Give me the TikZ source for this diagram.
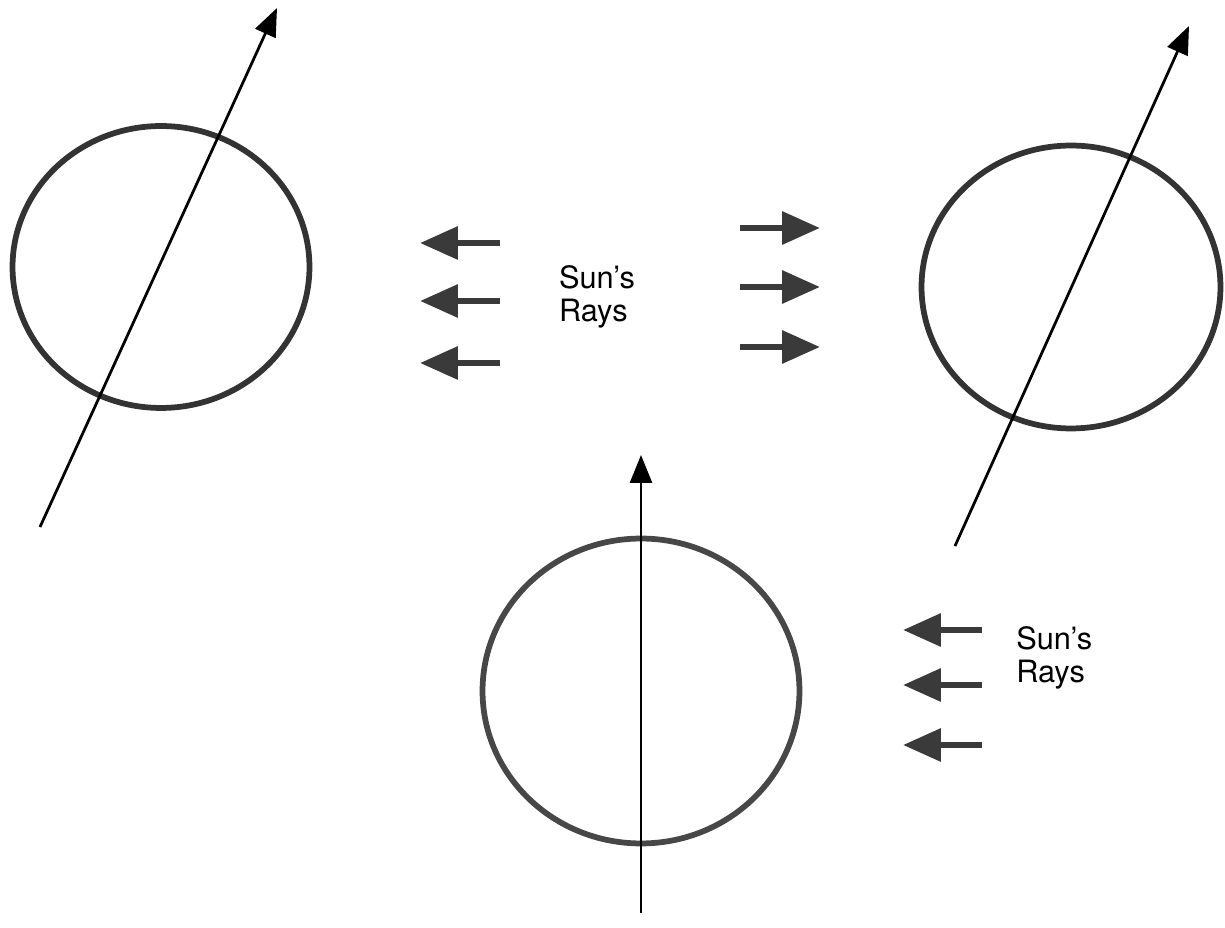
\documentclass[tikz,border=0pt]{standalone}
\usepackage{fontspec}
\setmainfont{TeX Gyre Heros}
\usetikzlibrary{arrows.meta, shapes.geometric}
\definecolor{globeline}{HTML}{333333}
\definecolor{globelight}{HTML}{474747}
\definecolor{rayfill}{HTML}{3A3A3A}

\begin{document}
\begin{tikzpicture}[x=0.02cm, y=-0.02cm,
      earth/.style={ellipse, draw=globeline, line width=0.115cm, inner sep=0pt},
      axis/.style={-{Triangle[length=0.56cm, width=0.44cm]}, line width=0.055cm, black},
      ray/.style={-{Triangle[length=0.76cm, width=0.64cm]}, line width=0.13cm, rayfill},
      label/.style={font=\fontsize{17.5}{19}\selectfont, align=left, inner sep=0pt},
    ]
    \useasboundingbox (0,0) rectangle (1225,928);

    % globes
    \node[earth, minimum width=5.94cm, minimum height=5.64cm] (gleft) at (161,267) {};
    \node[earth, minimum width=5.98cm, minimum height=5.66cm] (gright) at (1071,287) {};
    \node[earth, draw=globelight, minimum width=6.34cm, minimum height=6.1cm] (gbottom) at (641,691) {};

    % axes
    \coordinate (aleft0) at (40,527);
    \coordinate (aleft1) at (277,8);
    \coordinate (aright0) at (955,546);
    \coordinate (aright1) at (1189,26);
    \coordinate (abottom0) at (641,913);
    \coordinate (abottom1) at (641,455);
    \draw[axis] (aleft0) -- (aleft1);
    \draw[axis] (aright0) -- (aright1);
    \draw[axis] (abottom0) -- (abottom1);

    % rays, top pair
    \foreach \i/\y in {1/243, 2/301, 3/363} {
      \coordinate (rl\i a) at (500,\y);
      \coordinate (rl\i b) at (420,\y);
      \draw[ray] (rl\i a) -- (rl\i b);
    }
    \foreach \i/\y in {1/228, 2/287, 3/347} {
      \coordinate (rr\i a) at (740,\y);
      \coordinate (rr\i b) at (820,\y);
      \draw[ray] (rr\i a) -- (rr\i b);
    }
    \node[label] (sunmid) at (597,297) {Sun’s\\Rays};

    % rays, bottom
    \foreach \i/\y in {1/630, 2/685, 3/745} {
      \coordinate (rb\i a) at (982,\y);
      \coordinate (rb\i b) at (903,\y);
      \draw[ray] (rb\i a) -- (rb\i b);
    }
    \node[label, anchor=west] (sunright) at (1016,658) {Sun’s\\Rays};
  \end{tikzpicture}
\end{document}
